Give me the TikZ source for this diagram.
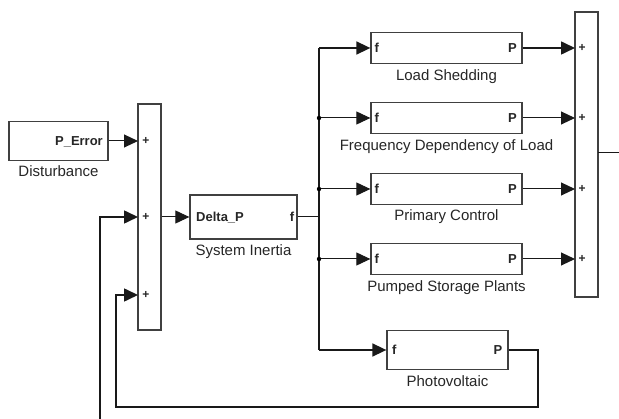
\documentclass[tikz,border=0pt]{standalone}
\usepackage{fontspec}
\setmainfont{Liberation Sans}
\usetikzlibrary{arrows.meta}
\begin{document}
\begin{tikzpicture}[x=1pt,y=-1pt,
  blk/.style={draw=black!75,line width=1.3pt,fill=white,inner sep=0pt,rectangle},
  lbl/.style={font=\fontsize{15}{15}\selectfont,text=black!85,inner sep=0pt,anchor=base},
  prt/.style={font=\bfseries\fontsize{13}{13}\selectfont,text=black!85,inner sep=0pt},
  pls/.style={font=\bfseries\fontsize{12}{12}\selectfont,text=black!85,inner sep=0pt},
  ln/.style={line width=1pt,draw=black!90},
  lnT/.style={line width=1.6pt,draw=black!90,line join=miter},
  tip/.style={-{Triangle[length=14pt,width=13pt]}},
  dot/.style={fill=black,draw=none}
]
\useasboundingbox (0,0) rectangle (619,419);

% blocks
\node[blk,minimum width=99pt,minimum height=39pt] (dist) at (58.5,141) {};
\node[blk,minimum width=23pt,minimum height=226pt] (sum1) at (149.5,217) {};
\node[blk,minimum width=107pt,minimum height=44pt] (inert) at (243.5,217) {};
\node[blk,minimum width=151pt,minimum height=31pt] (ls) at (446.5,48) {};
\node[blk,minimum width=151pt,minimum height=31pt] (fd) at (446.5,118) {};
\node[blk,minimum width=151pt,minimum height=31pt] (pc) at (446.5,189) {};
\node[blk,minimum width=151pt,minimum height=31pt] (ps) at (446.5,259) {};
\node[blk,minimum width=121pt,minimum height=39pt] (pv) at (447.5,350) {};
\node[blk,minimum width=23pt,minimum height=285pt] (sum2) at (586.5,154.5) {};

% block labels
\node[lbl] (distl) at (58.5,177) {Disturbance};
\node[lbl] (inertl) at (243.5,256) {System Inertia};
\node[lbl] (lsl) at (446.5,81) {Load Shedding};
\node[lbl] (fdl) at (446.5,150.8) {Frequency Dependency of Load};
\node[lbl] (pcl) at (446.5,221) {Primary Control};
\node[lbl] (psl) at (446.5,291.7) {Pumped Storage Plants};
\node[lbl] (pvl) at (447.5,386.7) {Photovoltaic};

% port labels
\node[prt,anchor=base east] (pe) at (103,145.7) {P\_Error};
\node[prt,anchor=base west] (dp) at (196,221.7) {Delta\_P};
\node[prt,anchor=base east] (fo) at (294.5,221.7) {f};
\node[prt,anchor=base west] (f1) at (374.5,52.7) {f};
\node[prt,anchor=base west] (f2) at (374.5,122.7) {f};
\node[prt,anchor=base west] (f3) at (374.5,193.7) {f};
\node[prt,anchor=base west] (f4) at (374.5,263.7) {f};
\node[prt,anchor=base west] (f5) at (392,354.7) {f};
\node[prt,anchor=base east] (p1) at (517,52.7) {P};
\node[prt,anchor=base east] (p2) at (517,122.7) {P};
\node[prt,anchor=base east] (p3) at (517,193.7) {P};
\node[prt,anchor=base east] (p4) at (517,263.7) {P};
\node[prt,anchor=base east] (p5) at (502.5,354.7) {P};

% plus signs
\node[pls] (pa) at (146,141) {+};
\node[pls] (pb) at (146,217) {+};
\node[pls] (pc2) at (146,295) {+};
\node[pls] (qa) at (582,48) {+};
\node[pls] (qb) at (582,118) {+};
\node[pls] (qc) at (582,189) {+};
\node[pls] (qd) at (582,259) {+};

% coordinates
\coordinate (s1a) at (138,141);
\coordinate (s1b) at (138,217);
\coordinate (s1c) at (138,295);
\coordinate (s2a) at (575,48);
\coordinate (s2b) at (575,118);
\coordinate (s2c) at (575,189);
\coordinate (s2d) at (575,259);
\coordinate (s2o) at (598,153);
\coordinate (s2e) at (619,153);
\coordinate (bus1) at (319,48);
\coordinate (bus2) at (319,118);
\coordinate (bus3) at (319,189);
\coordinate (bus4) at (319,259);
\coordinate (bus5) at (319,350);
\coordinate (busj) at (319,217);
\coordinate (fb1) at (538,350);
\coordinate (fb2) at (538,407);
\coordinate (fb3) at (116,407);
\coordinate (fb4) at (116,295);
\coordinate (ex1) at (100,419);
\coordinate (ex2) at (100,217);

% connectors
\draw[ln,tip] (dist.east) -- (s1a);
\draw[ln,tip] (sum1.east) -- (inert.west);
\draw[ln] (inert.east) -- (busj);
\draw[lnT] (bus1) -- (bus5);
\draw[lnT,tip] (bus1) -- (ls.west);
\draw[ln,tip] (bus2) -- (fd.west);
\draw[ln,tip] (bus3) -- (pc.west);
\draw[ln,tip] (bus4) -- (ps.west);
\draw[lnT,tip] (bus5) -- (pv.west);
\fill[dot] (bus2) circle (2.2pt);
\fill[dot] (bus3) circle (2.2pt);
\fill[dot] (bus4) circle (2.2pt);

\draw[lnT,tip] (ls.east) -- (s2a);
\draw[ln,tip] (fd.east) -- (s2b);
\draw[ln,tip] (pc.east) -- (s2c);
\draw[ln,tip] (ps.east) -- (s2d);
\draw[ln] (s2o) -- (s2e);

\draw[lnT,tip] (pv.east) -- (fb1) -- (fb2) -- (fb3) -- (fb4) -- (s1c);
\draw[lnT,tip] (ex1) -- (ex2) -- (s1b);
\end{tikzpicture}
\end{document}
